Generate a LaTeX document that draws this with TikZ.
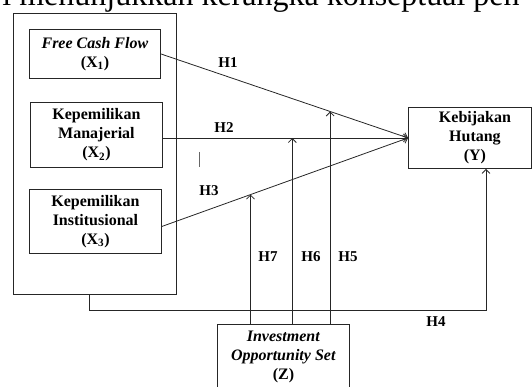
\documentclass[tikz,border=0pt]{standalone}
\usepackage{fontspec}
\setmainfont{Liberation Serif}
\usetikzlibrary{arrows.meta}

\begin{document}
\begin{tikzpicture}[x=1pt, y=-1pt, line width=0.8pt, draw=black!85,
  >={Straight Barb[length=4pt,width=8pt]},
  box/.style={draw, line width=0.9pt, anchor=north west, inner sep=0pt, align=center,
    font=\fontsize{16}{19}\selectfont\bfseries},
  hyp/.style={font=\fontsize{15}{16}\selectfont\bfseries, inner sep=0pt}]

  \useasboundingbox (0,0) rectangle (532,387);
  \clip (0,0) rectangle (532,387);

  % cut line of the page text above the figure
  \node[anchor=base west, inner sep=0pt, font=\fontsize{32}{36}\selectfont] (caption) at (2,6) {i menunjukkan kerangka konseptual pen};

  % independent variables
  \node[box, minimum width=163pt, minimum height=281pt] (grp) at (13,13) {};
  \node[box, minimum width=131pt, minimum height=49pt] (x1) at (29,29) {\textit{Free Cash Flow}\\(X\textsubscript{1})};
  \node[box, minimum width=132pt, minimum height=65pt] (x2) at (30,102) {Kepemilikan\\Manajerial\\(X\textsubscript{2})};
  \node[box, minimum width=132pt, minimum height=64pt] (x3) at (29,189) {Kepemilikan\\Institusional\\(X\textsubscript{3})};

  % dependent and moderating variables
  \node[box, minimum width=123pt, minimum height=61pt] (y) at (408,107) {\hspace*{10pt}Kebijakan\\\hspace*{10pt}Hutang\\\hspace*{10pt}(Y)};
  \node[box, minimum width=132pt, minimum height=66pt] (z) at (217,324) {\textit{Investment}\\\textit{Opportunity Set}\\(Z)};

  % direct effects
  \draw[->] (x1.east) -- coordinate[pos=0.685] (m1) (y.west);
  \draw[->] (x2.east |- y.west) -- coordinate[pos=0.528] (m2) (y.west);
  \draw[->] ([yshift=-5pt]x3.east) -- coordinate[pos=0.36] (m3) (y.west);

  % moderation
  \draw[->] (z.north -| m3) -- (m3);
  \draw[->] (z.north -| m2) -- (m2);
  \draw[->] (z.north -| m1) -- (m1);

  \coordinate (h4) at (486,310);
  \draw[->] ([xshift=-6pt]grp.south) |- (h4) -- (h4 |- y.south);

  \draw[line width=0.6pt, black!60] (199,152) -- (199,167);

  % labels
  \node[hyp] (l1) at (228,63) {H1};
  \node[hyp] (l2) at (224,128) {H2};
  \node[hyp] (l3) at (209,191) {H3};
  \node[hyp] (l7) at (268,257) {H7};
  \node[hyp] (l6) at (311,257) {H6};
  \node[hyp] (l5) at (348,257) {H5};
  \node[hyp] (l4) at (436,322) {H4};
\end{tikzpicture}
\end{document}
